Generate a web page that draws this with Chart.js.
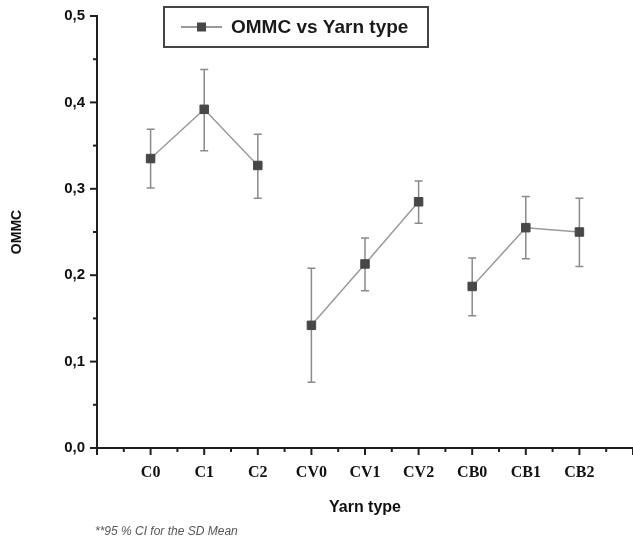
<!DOCTYPE html>
<html>
<head>
<meta charset="utf-8">
<script src="https://cdn.jsdelivr.net/npm/chart.js@4"></script>
<style>
  html, body { margin: 0; padding: 0; background: #fff; }
  #wrap { position: relative; width: 633px; height: 542px; }
</style>
</head>
<body>
<div id="wrap"><canvas id="c" width="633" height="542"></canvas></div>
<script>
// ---- data ----
const categories = ['C0', 'C1', 'C2', 'CV0', 'CV1', 'CV2', 'CB0', 'CB1', 'CB2'];
const groups     = ['C', 'C', 'C', 'CV', 'CV', 'CV', 'CB', 'CB', 'CB'];
const meanOMMC   = [0.335, 0.392, 0.327, 0.142, 0.213, 0.285, 0.187, 0.255, 0.250];
const upperCI    = [0.369, 0.438, 0.363, 0.208, 0.243, 0.309, 0.220, 0.291, 0.289];
const lowerCI    = [0.301, 0.344, 0.289, 0.076, 0.182, 0.260, 0.153, 0.219, 0.210];
const seriesName = 'OMMC vs Yarn type';
const footnote   = '**95 % CI for the SD Mean';

const MARK = '#474747', LINE = '#9a9a9a', ERR = '#8a8a8a', AXIS = '#1e1e1e';

const points = categories.map((c, i) => ({ x: i, y: meanOMMC[i] }));

const isMajorY = v => Math.abs(v * 10 - Math.round(v * 10)) < 1e-6;
const isMajorX = v => Math.abs(v - Math.round(v)) < 1e-6;

// error bars drawn through the scales
const errorBars = {
  id: 'errorBars',
  beforeDatasetsDraw(chart) {
    const { ctx, scales: { x, y } } = chart;
    ctx.save();
    ctx.strokeStyle = ERR;
    ctx.lineWidth = 1.5;
    points.forEach((p, i) => {
      const px = x.getPixelForValue(p.x);
      const top = y.getPixelForValue(upperCI[i]);
      const bot = y.getPixelForValue(lowerCI[i]);
      ctx.beginPath();
      ctx.moveTo(px, top); ctx.lineTo(px, bot);
      ctx.moveTo(px - 4, top); ctx.lineTo(px + 4, top);
      ctx.moveTo(px - 4, bot); ctx.lineTo(px + 4, bot);
      ctx.stroke();
    });
    ctx.restore();
  }
};

// major / minor tick marks on the outside of the axes
const tickMarks = {
  id: 'tickMarks',
  afterDraw(chart) {
    const { ctx, scales: { x, y } } = chart;
    ctx.save();
    ctx.strokeStyle = AXIS;
    ctx.lineWidth = 2;
    y.ticks.forEach(t => {
      const py = y.getPixelForValue(t.value);
      const len = isMajorY(t.value) ? 7 : 4;
      ctx.beginPath(); ctx.moveTo(y.right, py); ctx.lineTo(y.right - len, py); ctx.stroke();
    });
    x.ticks.forEach(t => {
      const px = x.getPixelForValue(t.value);
      const len = isMajorX(t.value) ? 7 : 4;
      ctx.beginPath(); ctx.moveTo(px, x.top); ctx.lineTo(px, x.top + len); ctx.stroke();
    });
    ctx.restore();
  }
};

// boxed legend + footnote
const boxLegend = {
  id: 'boxLegend',
  afterDraw(chart) {
    const { ctx } = chart;
    const ds = chart.data.datasets[0];
    ctx.save();
    ctx.fillStyle = '#fff';
    ctx.fillRect(164, 7, 264, 40);
    ctx.strokeStyle = '#444';
    ctx.lineWidth = 2;
    ctx.strokeRect(164, 7, 264, 40);
    ctx.strokeStyle = '#777';
    ctx.lineWidth = 1.5;
    ctx.beginPath(); ctx.moveTo(181, 27); ctx.lineTo(222, 27); ctx.stroke();
    ctx.fillStyle = MARK;
    ctx.fillRect(197, 22.5, 9, 9);
    ctx.fillStyle = '#1a1a1a';
    ctx.font = 'bold 19px "Liberation Sans", Arial, sans-serif';
    ctx.textBaseline = 'middle';
    ctx.textAlign = 'left';
    ctx.fillText(ds.label, 231, 28);
    ctx.fillStyle = '#555';
    ctx.font = 'italic 12px "Liberation Sans", Arial, sans-serif';
    ctx.fillText(footnote, 95, 532);
    ctx.restore();
  }
};

new Chart(document.getElementById('c'), {
  type: 'line',
  data: {
    datasets: [{
      label: seriesName,
      data: points,
      borderColor: LINE,
      borderWidth: 1.5,
      pointStyle: 'rect',
      pointRadius: 6,
      pointBorderWidth: 1,
      pointBackgroundColor: MARK,
      pointBorderColor: MARK,
      tension: 0,
      segment: {
        borderColor: c => groups[c.p0DataIndex] === groups[c.p1DataIndex] ? LINE : 'rgba(0,0,0,0)'
      }
    }]
  },
  options: {
    responsive: false,
    animation: false,
    devicePixelRatio: 1,
    layout: { autoPadding: false, padding: { top: 16, right: 0, bottom: 0, left: 0 } },
    plugins: { legend: { display: false }, tooltip: { enabled: false } },
    scales: {
      x: {
        type: 'linear',
        min: -1, max: 9,
        grid: { display: true, drawOnChartArea: false, drawTicks: true, tickLength: 15, color: 'rgba(0,0,0,0)' },
        border: { display: true, color: AXIS, width: 2 },
        afterFit: s => { s.height = 94; s.paddingRight = 0; s.paddingLeft = 0; },
        ticks: {
          stepSize: 0.5,
          autoSkip: false,
          maxRotation: 0,
          padding: 0,
          color: '#111',
          font: { family: '"Liberation Serif", "Times New Roman", serif', size: 16, weight: 'bold' },
          callback: v => (isMajorX(v) && v >= 0 && v < categories.length) ? categories[Math.round(v)] : ''
        },
        title: {
          display: true, text: 'Yarn type', color: '#111',
          font: { family: '"Liberation Sans", Arial, sans-serif', size: 16, weight: 'bold' },
          padding: { top: 16, bottom: 25 }
        }
      },
      y: {
        min: 0, max: 0.5,
        grid: { display: true, drawOnChartArea: false, drawTicks: true, tickLength: 7, color: 'rgba(0,0,0,0)' },
        border: { display: true, color: AXIS, width: 2 },
        afterFit: s => { s.width = 97; },
        ticks: {
          stepSize: 0.05,
          autoSkip: false,
          padding: 5,
          color: '#111',
          font: { family: '"Liberation Sans", Arial, sans-serif', size: 15, weight: 'bold' },
          callback: v => isMajorY(v) ? v.toFixed(1).replace('.', ',') : ''
        },
        title: {
          display: true, text: 'OMMC', color: '#111',
          font: { family: '"Liberation Sans", Arial, sans-serif', size: 14, weight: 'bold' },
          padding: { top: 9, bottom: 0 }
        }
      }
    }
  },
  plugins: [errorBars, tickMarks, boxLegend]
});
</script>
</body>
</html>
